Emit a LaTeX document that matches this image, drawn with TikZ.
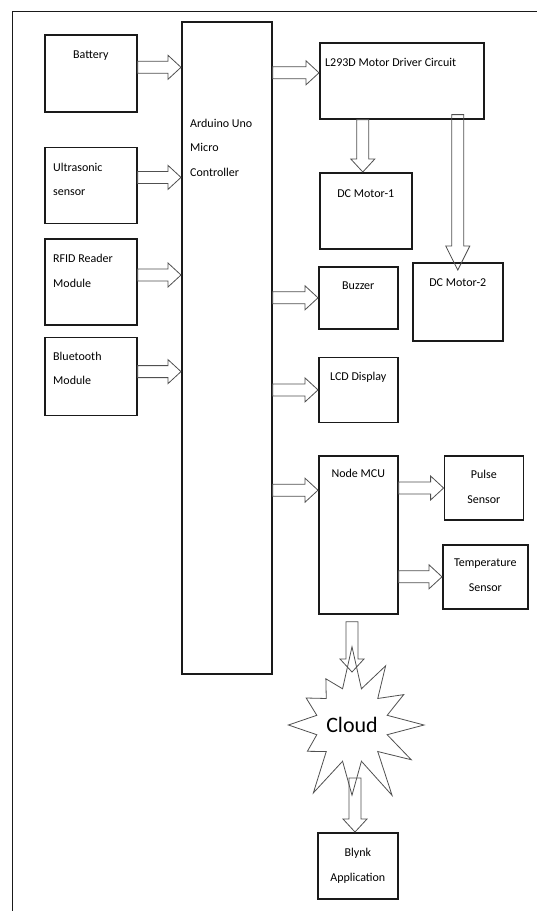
\documentclass[tikz,border=0pt]{standalone}
\usepackage{fontspec}
\setmainfont{Carlito}
\usetikzlibrary{calc,positioning,shapes.symbols}
\definecolor{boxline}{HTML}{1A1A1A}
\definecolor{arrline}{HTML}{505050}

\begin{document}
\begin{tikzpicture}[x=1pt,y=1pt,
      box/.style={draw=boxline,line width=1.6pt,anchor=north west,inner sep=0pt},
      txt/.style={font=\fontsize{12}{24.5}\selectfont,inner sep=0pt,align=center,anchor=base},
      ltxt/.style={txt,align=left,anchor=base west},
      hblk/.style={draw=arrline,line width=0.8pt,to path={let \p1=(\tikztostart),\p2=(\tikztotarget) in
        (\x1,\y1+6pt) -- (\x2-13pt,\y1+6pt) -- (\x2-13pt,\y1+12pt) -- (\x2,\y1)
        -- (\x2-13pt,\y1-12pt) -- (\x2-13pt,\y1-6pt) -- (\x1,\y1-6pt) -- cycle}},
      vblk/.style={draw=arrline,line width=0.8pt,to path={let \p1=(\tikztostart),\p2=(\tikztotarget) in
        (\x1-6pt,\y1) -- (\x1-6pt,\y2+#1) -- (\x1-12pt,\y2+#1) -- (\x1,\y2)
        -- (\x1+12pt,\y2+#1) -- (\x1+6pt,\y2+#1) -- (\x1+6pt,\y1) -- cycle}},
      vblk/.default=13pt]
    \useasboundingbox (0,0) rectangle (537,-911);
    \draw[line width=1pt,boxline] (537,-11) -- (12,-11) -- (12,-911);

    % inputs
    \node[box,minimum width=92pt,minimum height=77pt] (bat) at (44,-34) {};
    \node[box,minimum width=92pt,minimum height=76pt,below=34pt of bat] (us) {};
    \node[box,minimum width=92pt,minimum height=86pt,below=14pt of us] (rfid) {};
    \node[box,minimum width=92pt,minimum height=78pt,below=11pt of rfid] (bt) {};
    \node[box,minimum width=90pt,minimum height=652pt] (ard) at (181,-21) {};

    % outputs
    \node[box,minimum width=164pt,minimum height=76pt] (drv) at (319,-42) {};
    \node[box,minimum width=92pt,minimum height=76pt] (m1) at (319,-172) {};
    \node[box,minimum width=90pt,minimum height=78pt] (m2) at (412,-262) {};
    \node[box,minimum width=79pt,minimum height=62pt] (buz) at (318,-266) {};
    \node[box,minimum width=79pt,minimum height=65pt,below=27pt of buz] (lcd) {};
    \node[box,minimum width=79pt,minimum height=158pt,below=32pt of lcd] (mcu) {};
    \node[box,minimum width=79pt,minimum height=64pt,right=45pt of mcu.north east,anchor=north west] (pulse) {};
    \node[box,minimum width=85pt,minimum height=64pt] (temp) at (442,-544) {};
    \node[starburst,draw=arrline,line width=0.8pt,minimum width=140pt,minimum height=165pt,
      starburst points=12,starburst point height=45pt,random starburst=7,inner sep=0pt,
      font=\fontsize{22}{26}\selectfont] (cloud) at (352,-725) {Cloud};
    \node[box,minimum width=80pt,minimum height=66pt] (blynk) at (317,-832) {};

    % labels (base = last line)
    \node[txt] (batl) at ([yshift=-24pt]bat.north) {Battery};
    \node[ltxt] (usl) at ([shift={(9pt,-49pt)}]us.north west) {Ultrasonic\\sensor};
    \node[ltxt] (rfidl) at ([shift={(9pt,-49pt)}]rfid.north west) {RFID Reader\\Module};
    \node[ltxt] (btl) at ([shift={(9pt,-48pt)}]bt.north west) {Bluetooth\\Module};
    \node[ltxt] (ardl) at ([shift={(9pt,-155pt)}]ard.north west) {Arduino Uno\\Micro\\Controller};
    \node[ltxt] (drvl) at ([shift={(6pt,-24pt)}]drv.north west) {L293D Motor Driver Circuit};
    \node[txt] (m1l) at ([yshift=-25pt]m1.north) {DC Motor-1};
    \node[txt] (m2l) at ([yshift=-24pt]m2.north) {DC Motor-2};
    \node[txt] (buzl) at ([yshift=-23pt]buz.north) {Buzzer};
    \node[txt] (lcdl) at ([yshift=-24pt]lcd.north) {LCD Display};
    \node[txt] (mcul) at ([yshift=-22pt]mcu.north) {Node MCU};
    \node[txt] (pulsel) at ([yshift=-48pt]pulse.north) {Pulse\\Sensor};
    \node[txt] (templ) at ([yshift=-47pt]temp.north) {Temperature\\Sensor};
    \node[txt] (blynkl) at ([yshift=-49pt]blynk.north) {Blynk\\Application};

    % block arrows
    \draw[hblk] ([yshift=6pt]bat.east) to (ard.west);
    \draw[hblk] ([yshift=8pt]us.east) to (ard.west);
    \draw[hblk] ([yshift=7pt]rfid.east) to (ard.west);
    \draw[hblk] ([yshift=5pt]bt.east) to (ard.west);
    \draw[hblk] ($(ard.east |- drv.west)+(0,8)$) to (drv.west);
    \draw[hblk] (ard.east |- buz.west) to (buz.west);
    \draw[hblk] (ard.east |- lcd.west) to (lcd.west);
    \draw[hblk] ($(ard.east |- mcu.north)+(0,-35)$) to (mcu.west);
    \draw[hblk] (mcu.east |- pulse.west) to (pulse.west);
    \draw[hblk] (mcu.east |- temp.west) to (temp.west);
    \draw[vblk] ($(m1.north |- drv.south)+(-3,0)$) to (m1.north);
    \draw[vblk=24pt] ($(m2.north |- drv.south)+(0,5)$) to ($(m2.north)+(0,-8)$);
    \draw[vblk] ($(cloud.center |- mcu.south)+(0,-7)$) to ($(cloud.center)+(0,53)$);
    \draw[vblk] ($(cloud.center)+(3,-53)$) to (blynk.north);
  \end{tikzpicture}
\end{document}
